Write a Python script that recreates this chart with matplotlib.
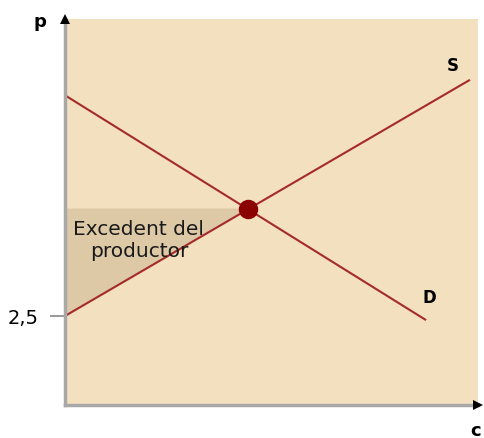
import matplotlib
matplotlib.use('Agg')
import matplotlib.pyplot as plt

# dades del mercat (quantitat, preu)
supply_q = [0, 11.04]
supply_p = [2.5, 9.12]
demand_q = [0, 9.84]
demand_p = [8.7, 2.4]
eq_q = 5.0
eq_p = 5.5
p_min = 2.5
tick_labels = ['2,5']

fig = plt.figure(figsize=(4.84, 4.39), dpi=100)
ax = fig.add_axes([0.1343, 0.0752, 0.853, 0.879])
ax.set_xlim(0, 11.28)
ax.set_ylim(0, 10.84)
ax.set_facecolor('#F3E0BE')

# excedent del productor
ax.fill([0, eq_q, 0], [p_min, eq_p, eq_p], color='#DDC9A6', zorder=1)

ax.plot(supply_q, supply_p, color='#A52A2A', lw=1.5, zorder=2)
ax.plot(demand_q, demand_p, color='#A52A2A', lw=1.5, zorder=2)
ax.plot([eq_q], [eq_p], 'o', color='#8B0000', ms=13, zorder=3)

ax.text(2.02, 4.65, 'Excedent del\nproductor', ha='center', va='center',
        fontsize=14.5, color='#1a1a1a', linespacing=1.25, zorder=4)
ax.text(10.6, 9.55, 'S', fontsize=12, fontweight='bold', ha='center',
        va='center', zorder=4)
ax.text(9.95, 3.03, 'D', fontsize=12, fontweight='bold', ha='center',
        va='center', zorder=4)

for s in ['top', 'right']:
    ax.spines[s].set_visible(False)
for s in ['left', 'bottom']:
    ax.spines[s].set_color('#A8A8A8')
    ax.spines[s].set_linewidth(2.5)

ax.set_xticks([])
ax.set_yticks([p_min])
ax.set_yticklabels(tick_labels, fontsize=14)
ax.tick_params(axis='y', length=11, width=1.2, color='#888888', pad=8)

# fletxes dels eixos
ax.plot(0, 1, '^', color='black', ms=7, mew=0, transform=ax.transAxes,
        clip_on=False, zorder=5)
ax.plot(1, 0, '>', color='black', ms=7, mew=0, transform=ax.transAxes,
        clip_on=False, zorder=5)
fig.text(40 / 484, 1 - 22 / 439, 'p', fontsize=13, fontweight='bold',
         ha='center', va='center')
fig.text(476 / 484, 1 - 431 / 439, 'c', fontsize=13, fontweight='bold',
         ha='center', va='center')

fig.savefig('out.png', dpi=100)
